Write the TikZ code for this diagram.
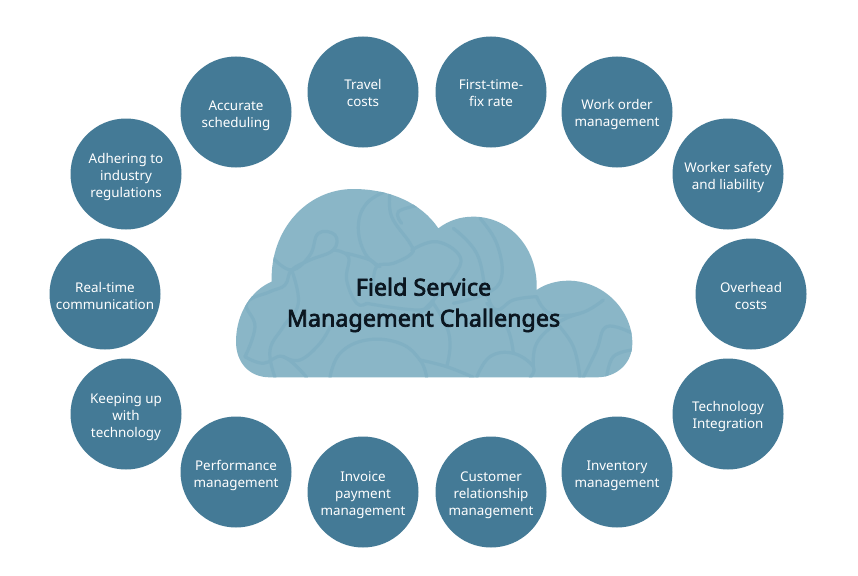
\documentclass[tikz,border=0pt]{standalone}
\usepackage{fontspec}
\setmainfont{Noto Sans}
\newfontfamily\titlefont[FakeBold=3]{Noto Sans}
\definecolor{disc}{HTML}{447A96}
\definecolor{cloudfill}{HTML}{8AB6C7}
\definecolor{vein}{HTML}{81B0C3}
\definecolor{ink}{HTML}{0B1620}
\newcommand\veincurve[1]{\draw[veinline] plot[smooth,tension=0.7] coordinates {#1};}
% name, centre x, centre y, text drop, text
\newcommand\discnode[5]{\node[disc] (#1) at (#2,#3) {};
  \node[disctext,yshift=-#4pt] (#1t) at (#1) {#5};}
\tikzset{
  disc/.style={circle,fill=disc,draw=none,minimum size=111pt,inner sep=0pt},
  disctext/.style={inner sep=0pt,text=white,align=center,font=\fontsize{13.4pt}{17pt}\selectfont},
  veinline/.style={draw=vein,line width=3.2pt,line cap=round,line join=round},
  cloudtitle/.style={text=ink,align=center,font=\titlefont\fontsize{23.3pt}{31pt}\selectfont}
}
\begin{document}
\begin{tikzpicture}[x=1pt,y=-1pt]
\useasboundingbox[fill=white] (0,0) rectangle (858,575);
\begin{scope}[x=0.33333pt,y=-0.33333pt,shift={(220pt,-170pt)}]
\def\cloudpath{(150,622)
 .. controls (85,622) and (48,575) .. (48,515)
 .. controls (48,430) and (95,360) .. (155,335)
 .. controls (150,180) and (260,57) .. (400,57)
 .. controls (510,57) and (605,100) .. (655,175)
 .. controls (685,152) and (720,140) .. (760,140)
 .. controls (870,140) and (955,235) .. (950,360)
 .. controls (975,342) and (1010,332) .. (1045,332)
 .. controls (1150,332) and (1237,420) .. (1237,520)
 .. controls (1237,580) and (1190,622) .. (1130,622) -- cycle}
\fill[cloudfill] \cloudpath;
\begin{scope}
\clip \cloudpath;
\veincurve{(505,60)(440,100)(415,170)(435,250)(480,290)}
\veincurve{(160,265)(215,300)(270,255)(295,190)(345,195)(340,240)(270,270)(215,300)(195,345)(150,365)(80,400)(105,470)(75,560)}
\veincurve{(510,70)(515,140)(570,220)(575,250)(520,280)(470,290)(460,350)}
\veincurve{(545,160)(535,125)(600,105)}
\veincurve{(575,240)(650,215)(720,260)(700,320)(640,390)(600,430)}
\veincurve{(780,145)(830,220)(845,320)(800,370)(700,400)}
\veincurve{(700,175)(770,250)(800,370)(830,420)(880,390)(950,380)}
\veincurve{(340,240)(385,260)(380,330)(410,400)(440,400)}
\veincurve{(215,300)(235,400)(190,470)(150,540)(165,622)}
\veincurve{(380,250)(450,270)(470,290)}
\veincurve{(440,400)(600,420)(640,390)}
\veincurve{(330,622)(360,550)(440,510)(540,520)(600,570)(620,622)}
\veincurve{(600,570)(680,590)(760,622)}
\veincurve{(640,400)(680,470)(690,530)(680,590)}
\veincurve{(770,622)(810,560)(880,550)(940,590)(930,622)}
\veincurve{(880,550)(860,470)(800,400)}
\veincurve{(950,380)(990,430)(1080,430)(1150,390)}
\veincurve{(940,590)(950,520)(1010,460)(1080,430)}
\veincurve{(1237,490)(1160,470)(1130,540)(1090,622)}
\veincurve{(1010,460)(1060,530)(1080,622)}
\veincurve{(1237,540)(1180,560)(1160,622)}
\veincurve{(75,560)(130,580)(190,560)(260,622)}
\veincurve{(190,560)(240,570)(300,520)(330,470)}
\end{scope}
\end{scope}
\node[cloudtitle,inner sep=0pt] (title) at (423.5,305) {Field Service\\Management Challenges};
\discnode{c1}{363}{92}{1}{Travel\\costs}
\discnode{c2}{491}{92}{1}{First-time-\\fix rate}
\discnode{c3}{617}{112}{3}{Work order\\management}
\discnode{c4}{728}{174}{3}{Worker safety\\and liability}
\discnode{c5}{751}{294}{2}{Overhead\\costs}
\discnode{c6}{728}{414}{3}{Technology\\Integration}
\discnode{c7}{617}{472}{3.5}{Inventory\\management}
\discnode{c8}{491}{492}{3}{Customer\\relationship\\management}
\discnode{c9}{363}{492}{3}{Invoice\\payment\\management}
\discnode{c10}{236}{472}{3}{Performance\\management}
\discnode{c11}{126}{414}{3}{Keeping up\\with\\technology}
\discnode{c12}{105}{294}{2}{Real-time\\communication}
\discnode{c13}{126}{174}{3}{Adhering to\\industry\\regulations}
\discnode{c14}{236}{112}{4}{Accurate\\scheduling}
\end{tikzpicture}
\end{document}
